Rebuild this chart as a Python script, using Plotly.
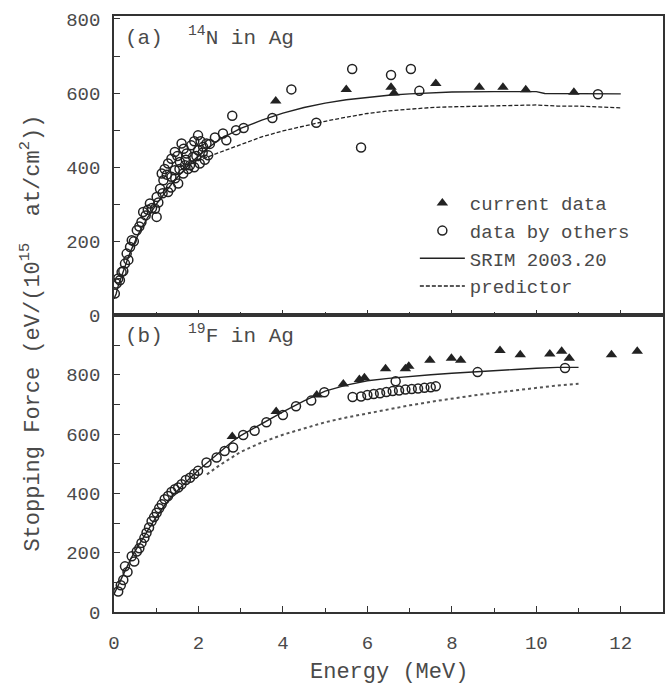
import plotly.graph_objects as go

# ---------------- data ----------------
# Panel (a) 14N in Ag
a_cur_E = [3.83, 5.50, 6.56, 6.63, 7.62, 8.65, 9.21, 9.75, 10.89]
a_cur_S = [579, 610, 616, 600, 626, 616, 616, 609, 602]

a_oth_E = [0.02, 0.06, 0.10, 0.14, 0.18, 0.22, 0.26, 0.30, 0.34, 0.38, 0.42, 0.47, 0.54,
           0.60, 0.65, 0.69, 0.75, 0.80, 0.85, 0.90, 0.97, 1.01, 1.01, 1.05, 1.09, 1.13,
           1.15, 1.17, 1.20, 1.25, 1.28, 1.28, 1.35, 1.36, 1.36, 1.44, 1.44, 1.45, 1.50,
           1.52, 1.55, 1.56, 1.60, 1.64, 1.65, 1.68, 1.70, 1.72, 1.75, 1.80, 1.83, 1.87,
           1.90, 1.90, 1.95, 1.99, 1.99, 2.03, 2.05, 2.10, 2.11, 2.15, 2.19, 2.23, 2.27,
           2.39, 2.58, 2.66, 2.80, 2.89, 3.07, 3.75, 4.20, 4.79, 5.64, 5.85, 6.56, 7.03,
           7.23, 11.46]
a_oth_S = [59, 86, 100, 95, 117, 120, 140, 167, 150, 185, 203, 200, 230,
           240, 252, 279, 270, 285, 302, 290, 288, 266, 320, 305, 342, 383,
           330, 365, 395, 380, 333, 410, 345, 374, 423, 392, 441, 370, 430,
           356, 395, 414, 464, 383, 450, 405, 420, 437, 395, 405, 459, 428,
           470, 400, 430, 486, 446, 410, 470, 440, 455, 420, 464, 432, 463,
           480, 491, 473, 539, 500, 506, 533, 610, 520, 665, 453, 649, 665,
           606, 597]

a_srim_E = [0.0, 0.05, 0.1, 0.2, 0.3, 0.4, 0.5, 0.6, 0.8, 1.0, 1.2, 1.4, 1.6, 1.8, 2.0,
            2.2, 2.5, 3.0, 3.5, 4.0, 4.5, 5.0, 5.5, 6.0, 6.5, 7.0, 8.0, 9.0, 10.0, 10.2,
            11.0, 12.0]
a_srim_S = [45, 58, 80, 115, 145, 175, 200, 225, 265, 300, 330, 360, 385, 410, 430,
            450, 475, 505, 527, 546, 561, 573, 582, 589, 594, 598, 603, 604, 604, 599,
            599, 598]

a_pred_E = [1.6, 2.0, 2.5, 3.0, 3.5, 4.0, 4.5, 5.0, 5.5, 6.0, 6.5, 7.0, 7.5, 8.0, 9.0,
            9.5, 10.0, 10.5, 11.0, 12.0]
a_pred_S = [395, 418, 440, 462, 482, 498, 512, 524, 535, 545, 552, 557, 561, 563, 565,
            568, 568, 565, 565, 560]

# Panel (b) 19F in Ag
b_cur_E = [2.80, 3.84, 4.80, 5.43, 5.81, 5.93, 6.43, 6.90, 6.98, 7.48, 7.99, 8.21, 9.14,
           9.62, 10.32, 10.60, 10.78, 11.78, 12.39]
b_cur_S = [592, 676, 732, 769, 784, 790, 820, 820, 829, 849, 856, 849, 882,
           868, 870, 879, 856, 868, 879]

b_oth_E = [0.10, 0.16, 0.22, 0.26, 0.32, 0.42, 0.48, 0.54, 0.60, 0.65, 0.72, 0.77, 0.83,
           0.89, 0.95, 1.01, 1.07, 1.13, 1.20, 1.28, 1.36, 1.44, 1.52, 1.60, 1.70, 1.80,
           1.90, 1.99, 2.19, 2.43, 2.62, 2.82, 3.06, 3.33, 3.61, 4.00, 4.31, 4.67, 4.98,
           5.65, 5.85, 6.00, 6.15, 6.30, 6.45, 6.60, 6.75, 6.90, 7.05, 7.20, 7.35, 7.50,
           7.62, 6.67, 8.61, 10.68]
b_oth_S = [69, 90, 108, 154, 135, 188, 170, 204, 215, 233, 250, 267, 285,
           306, 320, 335, 350, 363, 380, 391, 405, 414, 420, 431, 445, 453,
           465, 476, 504, 521, 543, 555, 597, 611, 640, 664, 694, 713, 741,
           725, 727, 732, 735, 738, 742, 745, 747, 750, 752, 754, 756, 758,
           761, 778, 809, 823]

b_srim_E = [0.0, 0.1, 0.2, 0.3, 0.4, 0.5, 0.6, 0.8, 1.0, 1.2, 1.4, 1.6, 1.8, 2.0, 2.5,
            2.8, 3.0, 3.5, 4.0, 4.5, 5.0, 5.5, 6.0, 6.5, 7.0, 7.5, 8.0, 8.5, 9.0, 9.5,
            10.0, 10.5, 11.0]
b_srim_S = [60, 90, 125, 155, 180, 205, 230, 275, 320, 360, 395, 425, 452, 478, 540,
            575, 595, 635, 675, 712, 745, 765, 780, 788, 795, 800, 805, 810, 815, 818,
            822, 825, 825]

b_pred_E = [2.2, 2.5, 3.0, 3.5, 4.0, 4.5, 5.0, 5.5, 6.0, 6.5, 7.0, 7.5, 8.0, 8.5, 9.0,
            9.5, 10.0, 10.5, 11.0]
b_pred_S = [464, 495, 540, 572, 598, 620, 640, 656, 670, 684, 697, 709, 720, 730, 739,
            748, 757, 764, 770]

x_tickvals = [0, 2, 4, 6, 8, 10, 12]
y_tickvals = [0, 200, 400, 600, 800]

# ---------------- style ----------------
FONT = "Liberation Mono, Courier New, monospace"
TXT = "#4a4a4a"
LINE = "#333333"
MK = "#222222"

fig = go.Figure()

def add_panel(cE, cS, oE, oS, sE, sS, pE, pS, xa, ya, show, pred_dash, pred_color, pred_w):
    fig.add_trace(go.Scatter(x=sE, y=sS, mode="lines", name="SRIM 2003.20",
                             line=dict(color=MK, width=1.4), xaxis=xa, yaxis=ya,
                             showlegend=show, legendrank=3))
    fig.add_trace(go.Scatter(x=pE, y=pS, mode="lines", name="predictor",
                             line=dict(color=pred_color, width=pred_w, dash=pred_dash),
                             xaxis=xa, yaxis=ya, showlegend=show, legendrank=4))
    fig.add_trace(go.Scatter(x=oE, y=oS, mode="markers", name="data by others",
                             marker=dict(symbol="circle-open", size=9, color=MK,
                                         line=dict(width=1.5, color=MK)),
                             xaxis=xa, yaxis=ya, showlegend=show, legendrank=2))
    fig.add_trace(go.Scatter(x=cE, y=cS, mode="markers", name="current data",
                             marker=dict(symbol="triangle-up", size=10, color=MK),
                             xaxis=xa, yaxis=ya, showlegend=show, legendrank=1))

add_panel(a_cur_E, a_cur_S, a_oth_E, a_oth_S, a_srim_E, a_srim_S, a_pred_E, a_pred_S,
          "x", "y", True, "4px,2px", MK, 1.3)
add_panel(b_cur_E, b_cur_S, b_oth_E, b_oth_S, b_srim_E, b_srim_S, b_pred_E, b_pred_S,
          "x2", "y2", False, "dot", "#555555", 2)

xcommon = dict(range=[0, 13], showline=True, linecolor=LINE, linewidth=1.5, mirror=True,
               ticks="inside", ticklen=6, tickwidth=1.3, tickcolor=LINE,
               tickvals=x_tickvals, showgrid=False, zeroline=False,
               minor=dict(dtick=1, ticks="inside", ticklen=4, tickwidth=1.3, tickcolor=LINE),
               tickfont=dict(family=FONT, size=19, color=TXT))
ycommon = dict(showline=True, linecolor=LINE, linewidth=1.5, mirror=True,
               ticks="inside", ticklen=6, tickwidth=1.3, tickcolor=LINE,
               tickvals=y_tickvals, showgrid=False, zeroline=False,
               minor=dict(dtick=100, ticks="inside", ticklen=6, tickwidth=1.3, tickcolor=LINE),
               tickfont=dict(family=FONT, size=19, color=TXT), ticklabelstandoff=8)

fig.update_layout(
    width=667, height=689,
    margin=dict(l=114, r=2, t=16, b=77),
    paper_bgcolor="white", plot_bgcolor="white",
    font=dict(family=FONT, color=TXT),
    xaxis=dict(xcommon, anchor="y", showticklabels=False),
    yaxis=dict(ycommon, domain=[0.4975, 1.0], range=[0, 808], anchor="x"),
    xaxis2=dict(xcommon, anchor="y2", ticklabelstandoff=12),
    yaxis2=dict(ycommon, domain=[0.0, 0.4975], range=[0, 1000], anchor="x2"),
    legend=dict(x=0.548, y=0.718, xanchor="left", yanchor="top",
                bgcolor="rgba(0,0,0,0)", borderwidth=0,
                font=dict(family=FONT, size=19, color=TXT),
                itemwidth=45, tracegroupgap=0),
    annotations=[
        dict(text="(a)\u00a0 <sup>14</sup>N in Ag", xref="paper", yref="paper",
             x=0.016, y=0.966, xanchor="left", yanchor="middle", showarrow=False,
             font=dict(family=FONT, size=21, color=TXT)),
        dict(text="(b)\u00a0 <sup>19</sup>F in Ag", xref="paper", yref="paper",
             x=0.016, y=0.466, xanchor="left", yanchor="middle", showarrow=False,
             font=dict(family=FONT, size=21, color=TXT)),
        dict(text="Stopping Force (eV/(10<sup>15</sup>\u00a0 at/cm<sup>2</sup>))",
             xref="paper", yref="paper", x=-0.152, y=0.468, textangle=-90,
             xanchor="center", yanchor="middle", showarrow=False,
             font=dict(family=FONT, size=22, color=TXT)),
        dict(text="Energy (MeV)", xref="paper", yref="paper", x=0.5, y=-0.102,
             xanchor="center", yanchor="middle", showarrow=False,
             font=dict(family=FONT, size=22, color=TXT)),
    ],
)

fig.write_html("out.html")
